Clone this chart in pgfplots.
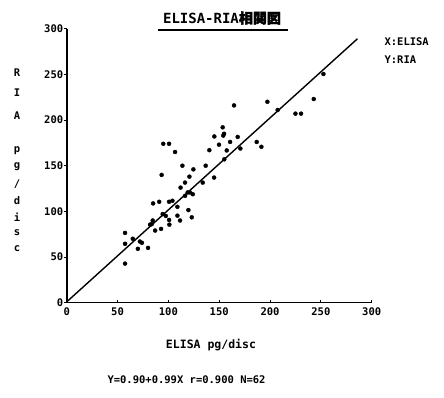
\documentclass[border=0pt]{standalone}
\usepackage{fontspec}
\setmainfont{DejaVu Sans Mono}
\newfontfamily\cjk{Noto Sans CJK JP}[FakeBold=2]
\usepackage{pgfplots}
\pgfplotsset{compat=1.18}
\begin{document}
\begin{tikzpicture}[x=1pt,y=1pt]
\useasboundingbox (0,0) rectangle (444,397);
\begin{axis}[
  at={(66.7pt,94.3pt)}, anchor=south west,
  scale only axis, width=305pt, height=274pt,
  xmin=0, xmax=300, ymin=0, ymax=300,
  axis x line*=bottom, axis y line*=left,
  x axis line style={line width=1.4pt},
  y axis line style={line width=2pt},
  xtick={0,50,...,300}, ytick={0,50,...,300},
  tick align=inside, major tick length=3pt,
  tick style={line width=1pt, black},
  y tick style={xshift=-3pt},
  /pgf/number format/assume math mode=true,
  tick label style={font=\fontsize{10.5}{12}\selectfont\bfseries},
  xticklabel style={yshift=-1pt},
  clip=false,
]
\addplot[only marks, mark=*, mark size=2pt, black] coordinates {
(57.4,76.4) (57.4,64.5) (57.4,42.8) (65,70) (70,59) (72,67) (74,65.6) (80,60)
(84.6,90) (87,79) (85,108.7) (91,110.5) (92.8,80.8) (93.4,139.9) (95,174)
(100.7,174) (106.6,165) (94.4,97) (97.5,95) (100.7,110.5) (100.7,90.6)
(101,85.5) (108.9,105) (108.9,95.3) (111.5,90) (112,126) (113.8,150)
(116.4,131.5) (116.4,117) (119.7,101.4) (120.7,138) (121.3,120.7) (124,118.8)
(123,93.5) (124.6,146) (133.8,131.5) (136.7,150) (140.3,167) (145,137)
(145.2,182) (149.8,173) (153.4,192) (154,183) (154.8,185) (155,157)
(157.4,166.7) (160.7,176) (164.6,216) (168.2,181.5) (170.8,168.8)
(186.9,176) (191.5,170.7) (197.4,220) (207.5,211) (225,207) (230.5,207)
(243,223) (252.5,250.4) (83.6,86) (104,111.6) (82,85.5) (119,120.7)
};
\addplot[black, line width=1.4pt] coordinates {(0,0.9) (286,289)};
\end{axis}
% title
\node[font=\fontsize{14}{16}\selectfont\bfseries] at (222,379) {ELISA-RIA{\cjk 相関図}};
\draw[line width=1.5pt] (158,367) -- (288,367);
% legend text
\node[anchor=west, font=\fontsize{10.5}{12}\selectfont\bfseries] at (381,355) {X:ELISA};
\node[anchor=west, font=\fontsize{10.5}{12}\selectfont\bfseries] at (381,337) {Y:RIA};
% x label
\node[font=\fontsize{11.5}{13}\selectfont\bfseries] at (211,52) {ELISA pg/disc};
% y label, stacked letters
\begin{scope}[every node/.style={font=\fontsize{10.5}{12}\selectfont\bfseries}]
\node at (17,324) {R};
\node at (17,304) {I};
\node at (17,281) {A};
\node at (17,246) {p};
\node at (17,230) {g};
\node at (17,213) {/};
\node at (17,196) {d};
\node at (17,180) {i};
\node at (17,164) {s};
\node at (17,148) {c};
\end{scope}
% bottom statistics
\node[anchor=west, font=\fontsize{10.5}{12}\selectfont\bfseries] at (104,17) {Y=0.90+0.99X r=0.900 N=62};
\end{tikzpicture}
\end{document}
